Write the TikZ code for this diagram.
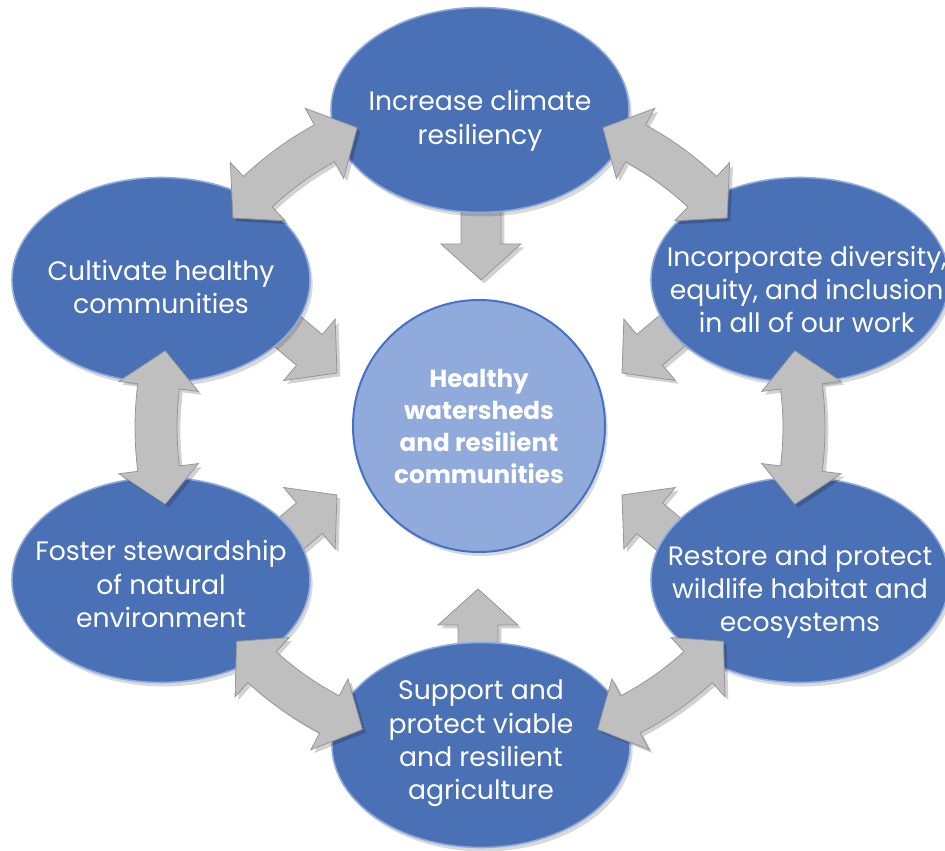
\documentclass[tikz,border=0pt]{standalone}
\usepackage{fontspec}
\setmainfont{Poppins}
\usetikzlibrary{shapes.geometric,shadows}
\definecolor{ellfill}{RGB}{74,112,181}
\definecolor{ellline}{RGB}{143,170,220}
\definecolor{cenfill}{RGB}{143,170,219}
\definecolor{cenline}{RGB}{68,114,196}
\definecolor{arrfill}{RGB}{191,191,191}
\definecolor{arrline}{RGB}{150,150,150}
\newcommand\singlearrow[3]{%
  \draw[blockarrow, shift={#1}, rotate=#2]
    (0,0) -- (-36,40) -- (-36,20) -- (-#3,20) -- (-#3,-20) -- (-36,-20) -- (-36,-40) -- cycle;}
% ring double arrow: centre angle #1
\newcommand\ringarrow[1]{%
  \pgfmathsetmacro\aA{#1-13.7}\pgfmathsetmacro\bA{#1-13.7+6.4}%
  \pgfmathsetmacro\bB{#1+13.7-6.4}\pgfmathsetmacro\aB{#1+13.7}%
  \draw[blockarrow, shift={(ctr)}]
    (\aA:324) -- (\bA:364) -- (\bA:345)
    arc[start angle=\bA, end angle=\bB, radius=345]
    -- (\bB:364) -- (\aB:324) -- (\bB:284) -- (\bB:303)
    arc[start angle=\bB, end angle=\bA, radius=303]
    -- (\bA:284) -- cycle;}
\begin{document}
\begin{tikzpicture}[x=0.75pt,y=0.75pt,
  blockarrow/.style={fill=arrfill, draw=arrline, line width=0.6pt, line join=miter,
    drop shadow={shadow xshift=2.5pt, shadow yshift=-2.5pt, opacity=0.18, fill=black}},
  goal/.style={ellipse, fill=ellfill, draw=ellline, line width=1.2pt,
    minimum width=223.5pt, minimum height=153.75pt, inner sep=0pt,
    drop shadow={shadow xshift=2pt, shadow yshift=-3pt, opacity=0.15, fill=black}},
  goaltext/.style={text=white, align=center, inner sep=0pt,
    font=\fontsize{20}{25}\selectfont},
  hub/.style={circle, fill=cenfill, draw=cenline, line width=1.5pt,
    minimum size=189pt, inner sep=0pt, text=white, align=center,
    font=\bfseries\fontsize{18.5}{24}\selectfont,
    drop shadow={shadow xshift=2pt, shadow yshift=-3pt, opacity=0.15, fill=black}}]
\useasboundingbox (0,0) rectangle (945,850);
\clip (0,0) rectangle (945,850);
\coordinate (ctr) at (480,422.5);
% arrows toward the centre (behind the ellipses)
\singlearrow{(481,570)}{-90}{85}
\singlearrow{(478,261)}{90}{80}
\singlearrow{(337,477)}{-40}{95}
\singlearrow{(622,477)}{-140}{95}
\singlearrow{(337,355)}{40}{95}
\singlearrow{(622,355)}{140}{95}
% goal ellipses
\node[goal] (top) at (480,740) {};
\node[goal] (tl) at (161,570) {};
\node[goal] (tr) at (800,570) {};
\node[goal] (bl) at (161,270) {};
\node[goal] (br) at (800,270) {};
\node[goal] (bot) at (481,105) {};
\node[goaltext] (toptext) at ([yshift=-8]top.center) {Increase climate\\resiliency};
\node[goaltext] (tltext) at ([yshift=-5]tl.center) {Cultivate healthy\\communities};
\node[goaltext] (trtext) at ([xshift=5,yshift=-7]tr.center) {Incorporate diversity,\\equity, and inclusion\\in all of our work};
\node[goaltext] (bltext) at ([yshift=-3]bl.center) {Foster stewardship\\of natural\\environment};
\node[goaltext] (brtext) at ([yshift=-9]br.center) {Restore and protect\\wildlife habitat and\\ecosystems};
\node[goaltext] (bottext) at ([yshift=1]bot.center) {Support and\\protect viable\\and resilient\\agriculture};
\node[hub] (hub) at (479,424) {Healthy\\watersheds\\and resilient\\communities};
% double arrows between neighbouring goals
\ringarrow{54}
\ringarrow{126}
\ringarrow{0}
\ringarrow{180}
\ringarrow{-55}
\ringarrow{-125}
\end{tikzpicture}
\end{document}
